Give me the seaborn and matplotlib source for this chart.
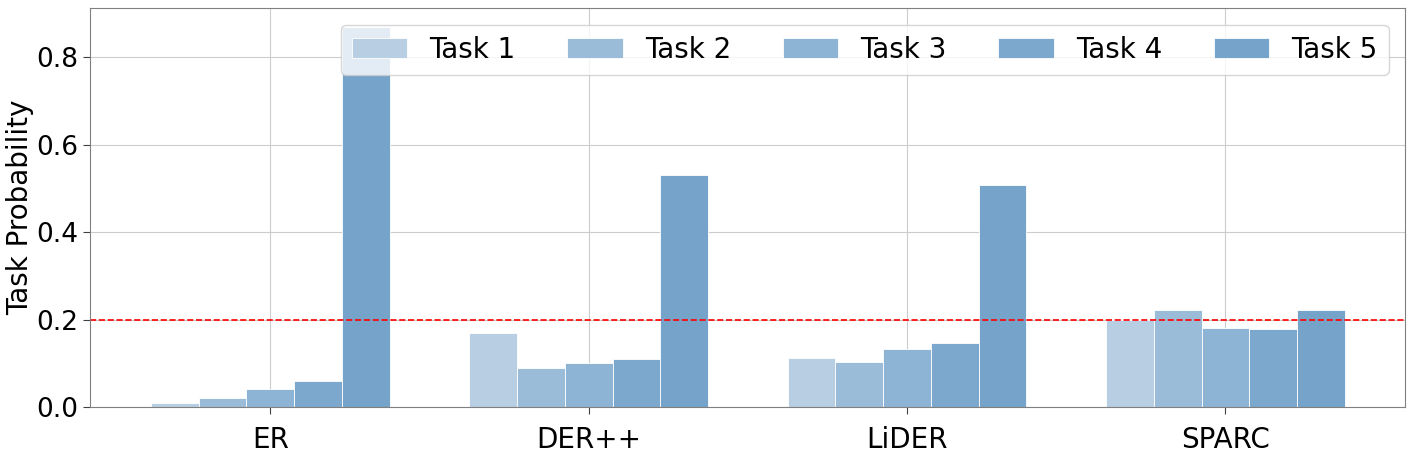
import pandas as pd
import matplotlib.pyplot as plt
import seaborn as sns

methods = ["ER", "DER++", "LiDER", "SPARC"]
tasks = ["Task 1", "Task 2", "Task 3", "Task 4", "Task 5"]
task1 = [0.010, 0.170, 0.113, 0.200]
task2 = [0.020, 0.090, 0.102, 0.221]
task3 = [0.040, 0.100, 0.132, 0.180]
task4 = [0.060, 0.110, 0.146, 0.178]
task5 = [0.870, 0.530, 0.508, 0.222]
task_colors = ["#b7cee3", "#9bbcd8", "#8db4d5", "#7ca8cd", "#76a3ca"]

rows = []
for task, vals in zip(tasks, [task1, task2, task3, task4, task5]):
    for m, v in zip(methods, vals):
        rows.append({"method": m, "task": task, "prob": v})
df = pd.DataFrame(rows)

sns.set_style("whitegrid", {"axes.edgecolor": "#808080", "grid.color": "#cccccc",
                            "xtick.bottom": True, "ytick.left": True,
                            "text.color": "black", "xtick.color": "black",
                            "ytick.color": "black", "axes.labelcolor": "black"})
plt.rcParams["font.family"] = ["DejaVu Sans"]

fig, ax = plt.subplots(figsize=(14.11, 4.65), dpi=100)
sns.barplot(data=df, x="method", y="prob", hue="task", palette=task_colors,
            saturation=1, width=0.75, edgecolor="white", linewidth=0.6, ax=ax)

ax.axhline(0.2, color="red", linestyle="--", linewidth=1.2)
ax.set_ylim(0, max(task5) * 1.05)
ax.set_xlim(-0.565, 3.565)
ax.set_xlabel("")
ax.set_ylabel("Task Probability", fontsize=20)
ax.yaxis.set_label_coords(-0.043, 0.5)
ax.tick_params(axis="both", labelsize=20, length=5, color="#404040")
ax.tick_params(axis="y", labelsize=19)
ax.tick_params(axis="x", pad=9)
ax.grid(True, axis="both", color="#cccccc", linewidth=0.8)
ax.set_axisbelow(True)
ax.legend(loc="upper right", ncol=5, fontsize=20, framealpha=0.8,
          handlelength=2.0, columnspacing=1.85, borderaxespad=0.6)

plt.subplots_adjust(left=0.064, right=0.996, top=0.983, bottom=0.125)
plt.savefig("out.png", dpi=100)
plt.close()
